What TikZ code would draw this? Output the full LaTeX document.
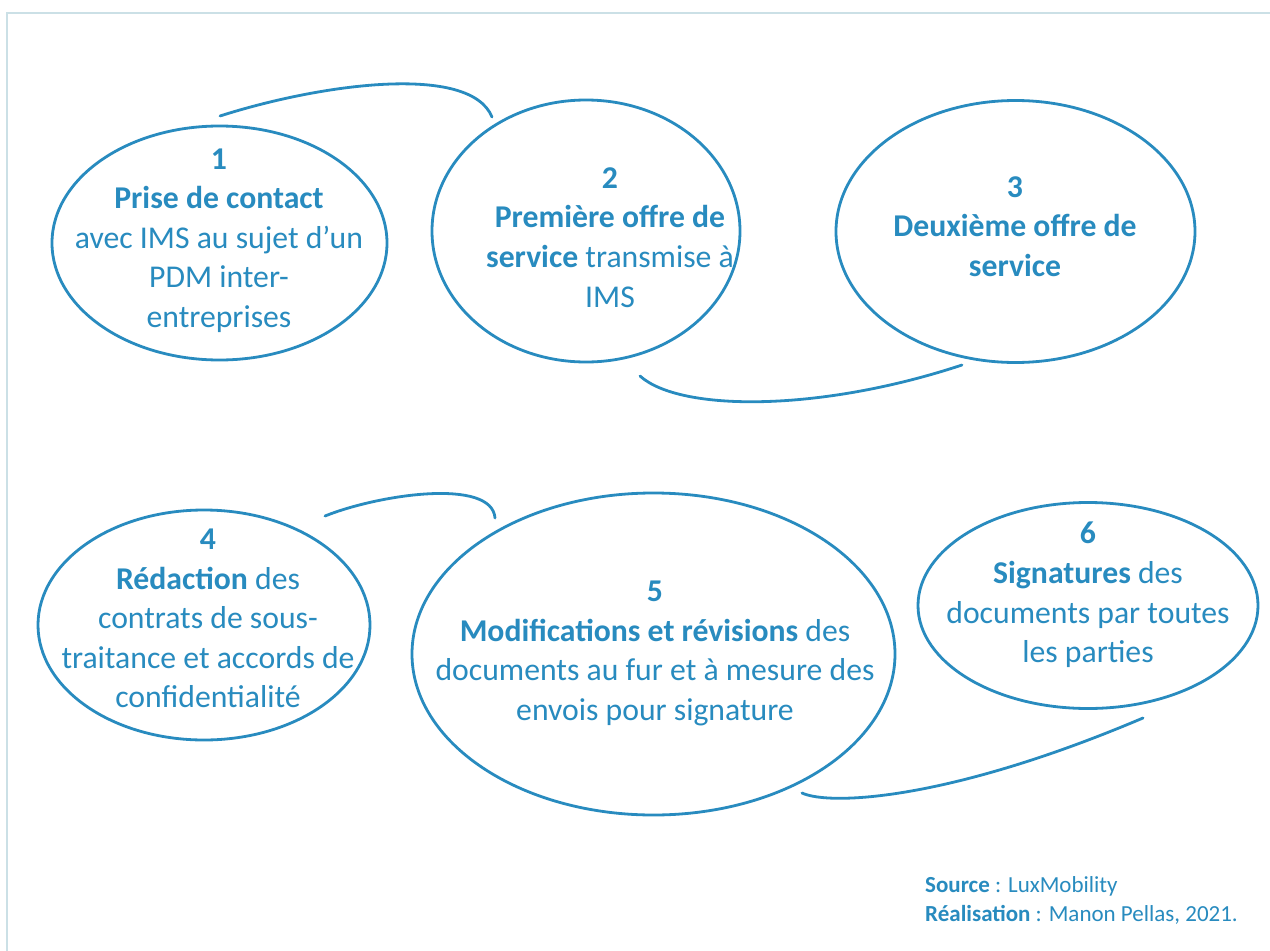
\documentclass[tikz,border=0pt]{standalone}
\usepackage{fontspec}
\setmainfont{Carlito}
\usetikzlibrary{shapes.geometric}
\definecolor{bleu}{RGB}{40,139,191}
\definecolor{cadre}{RGB}{203,224,230}
\tikzset{
  bulle/.style={ellipse, draw=bleu, line width=2.8bp, inner sep=0pt},
  lien/.style={draw=bleu, line width=2.8bp, line cap=round},
  texte/.style={text=bleu, align=center, inner sep=0pt, font=\fontsize{31.7bp}{39.6bp}\selectfont},
  legende/.style={text=bleu, inner sep=0pt, anchor=base west, font=\fontsize{23bp}{29bp}\selectfont}
}
\begin{document}
\begin{tikzpicture}[x=1bp,y=-1bp]
\useasboundingbox (0,0) rectangle (1270,951);
\fill[white] (0,0) rectangle (1270,951);
\draw[cadre, line width=1.3bp] (7,951) -- (7,13) -- (1270,13);

% ellipses
\node[bulle, minimum width=335bp, minimum height=234bp] (e1) at (219.5,243) {};
\node[bulle, minimum width=308bp, minimum height=262bp] (e2) at (586,231) {};
\node[bulle, minimum width=359bp, minimum height=262bp] (e3) at (1015.5,231.5) {};
\node[bulle, minimum width=332bp, minimum height=230bp] (e4) at (204,625) {};
\node[bulle, minimum width=483bp, minimum height=322bp] (e5) at (653.5,654) {};
\node[bulle, minimum width=340bp, minimum height=206bp] (e6) at (1088,605.5) {};

% texts
\node[texte] (t1) at (219,240.5) {\textbf{1}\\\textbf{Prise de contact}\\avec IMS au sujet d’un\\PDM inter-\\entreprises};
\node[texte] (t2) at (610,237.5) {\textbf{2}\\\textbf{Première offre de}\\\textbf{service} transmise à\\IMS};
\node[texte] (t3) at (1015,226.5) {\textbf{3}\\\textbf{Deuxième offre de}\\\textbf{service}};
\node[texte] (t4) at (208,618.5) {\textbf{4}\\\textbf{Rédaction} des\\contrats de sous-\\traitance et accords de\\confidentialité};
\node[texte] (t5) at (655,653.5) {\textbf{5}\\\textbf{Modifications et révisions} des\\documents au fur et à mesure des\\envois pour signature};
\node[texte] (t6) at (1088,595) {\textbf{6}\\\textbf{Signatures} des\\documents par toutes\\les parties};

% connecting tails
\coordinate (c1a) at (220,116);
\coordinate (c1b) at (492,117);
\coordinate (c2a) at (640,376);
\coordinate (c2b) at (962,365);
\coordinate (c3a) at (325,516);
\coordinate (c3b) at (495,518);
\coordinate (c4a) at (802,793);
\coordinate (c4b) at (1143,718);
\draw[lien] (c1a) .. controls (320,84) and (470,63) .. (c1b);
\draw[lien] (c2a) .. controls (680,412) and (820,412) .. (c2b);
\draw[lien] (c3a) .. controls (380,494) and (492,478) .. (c3b);
\draw[lien] (c4a) .. controls (830,806) and (950,800) .. (c4b);

% caption
\node[legende] (src) at (925,892) {\textbf{Source} : LuxMobility};
\node[legende] (real) at (925,921) {\textbf{Réalisation} : Manon Pellas, 2021.};
\end{tikzpicture}
\end{document}
